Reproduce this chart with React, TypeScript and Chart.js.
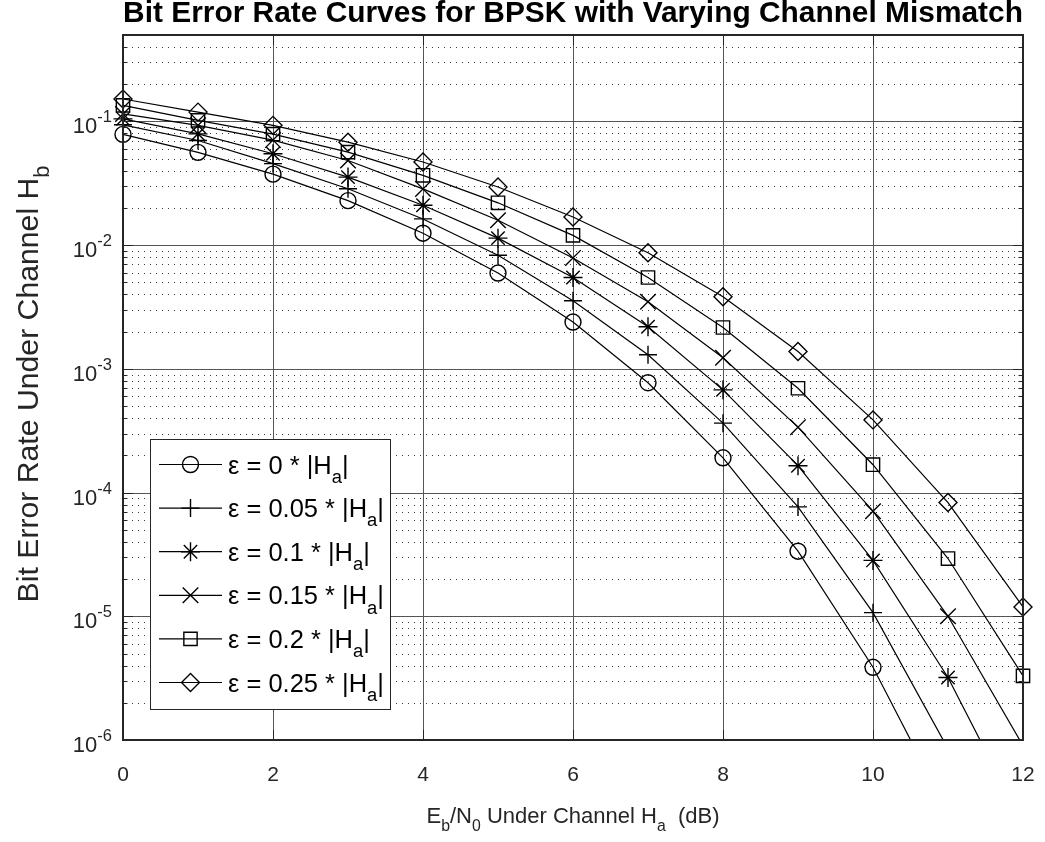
import React, { useEffect, useRef } from "react";
import { Chart, registerables } from "chart.js";
import { drawPoint } from "chart.js/helpers";

Chart.register(...registerables);

// ---------------- data ----------------
const ebn0 = [0, 1, 2, 3, 4, 5, 6, 7, 8, 9, 10, 11, 12];

const ber000 = [0.0786, 0.0563, 0.0375, 0.0229, 0.0125, 0.00595, 0.00239, 7.73e-4, 1.91e-4, 3.36e-5, 3.87e-6, 2.6e-7, 9e-9];
const ber005 = [0.094, 0.0702, 0.0456, 0.0286, 0.0163, 0.0083, 0.00355, 1.3e-3, 3.64e-4, 7.66e-5, 1.07e-5, 8.5e-7, 4e-8];
const ber010 = [0.105, 0.0794, 0.0548, 0.0355, 0.021, 0.0114, 0.00548, 0.00219, 6.77e-4, 1.65e-4, 2.83e-5, 3.2e-6, 2.1e-7];
const ber015 = [0.115, 0.093, 0.0707, 0.0484, 0.0285, 0.0159, 0.00789, 0.00349, 0.00123, 3.38e-4, 7.07e-5, 1.0e-5, 9e-7];
const ber020 = [0.135, 0.102, 0.079, 0.0565, 0.0367, 0.022, 0.012, 0.00548, 0.00216, 6.97e-4, 1.68e-4, 2.93e-5, 3.3e-6];
const ber025 = [0.152, 0.119, 0.093, 0.068, 0.047, 0.0295, 0.0169, 0.0087, 0.00383, 0.00138, 3.87e-4, 8.3e-5, 1.19e-5];

const epsLabels = ["0", "0.05", "0.1", "0.15", "0.2", "0.25"];
const seriesData = [ber000, ber005, ber010, ber015, ber020, ber025];

const xTickValues = [0, 2, 4, 6, 8, 10, 12];
const yDecadeExps = [-6, -5, -4, -3, -2, -1];

const titleText = "Bit Error Rate Curves for BPSK with Varying Channel Mismatch";
const xMin = 0;
const xMax = 12;
const yMin = 1e-6;
const yMax = 0.5;

// ---------------- styles ----------------
const markerStyles = ["circle", "cross", "star", "crossRot", "rect", "rectRot"];
const markerRadii = [8, 9, 9.5, 11, 9.4, 9];
const FONT = "'Liberation Sans', Arial, Helvetica, sans-serif";
const AXIS_COLOR = "#262626";

type Part = { t: string; sub?: boolean; sup?: boolean };

function measureRich(ctx: CanvasRenderingContext2D, parts: Part[], size: number, weight = "normal", ratio = 0.72) {
  let total = 0;
  for (const p of parts) {
    const s = p.sub || p.sup ? size * ratio : size;
    ctx.font = `${weight} ${s}px ${FONT}`;
    total += ctx.measureText(p.t).width;
  }
  return total;
}

function drawRich(
  ctx: CanvasRenderingContext2D,
  parts: Part[],
  x: number,
  y: number,
  align: "left" | "center" | "right",
  size: number,
  weight = "normal",
  ratio = 0.72
) {
  const segs = parts.map((p) => {
    const s = p.sub || p.sup ? size * ratio : size;
    ctx.font = `${weight} ${s}px ${FONT}`;
    return { ...p, s, w: ctx.measureText(p.t).width };
  });
  const total = segs.reduce((a, b) => a + b.w, 0);
  let cx = align === "center" ? x - total / 2 : align === "right" ? x - total : x;
  ctx.textAlign = "left";
  ctx.textBaseline = "alphabetic";
  for (const s of segs) {
    ctx.font = `${weight} ${s.s}px ${FONT}`;
    const dy = s.sub ? size * 0.36 : s.sup ? -size * 0.5 : 0;
    ctx.fillText(s.t, cx, y + dy);
    cx += s.w;
  }
}

const matlabPlugin = {
  id: "matlabAxes",
  beforeDatasetsDraw(chart: any) {
    const { ctx, chartArea } = chart;
    const xs = chart.scales.x;
    const ys = chart.scales.y;
    const { left, right, top, bottom } = chartArea;
    ctx.save();
    // minor dotted grid
    ctx.strokeStyle = "#3a3a3a";
    ctx.lineWidth = 1;
    ctx.setLineDash([1, 5]);
    for (const e of yDecadeExps.concat([0])) {
      for (let m = 2; m <= 9; m++) {
        const v = m * Math.pow(10, e - 1);
        if (v <= yMin || v >= yMax) continue;
        const py = Math.round(ys.getPixelForValue(v)) + 0.5;
        ctx.beginPath();
        ctx.moveTo(left + 3, py);
        ctx.lineTo(right, py);
        ctx.stroke();
      }
    }
    ctx.setLineDash([]);
    // major grid
    ctx.strokeStyle = "#555555";
    for (const e of yDecadeExps) {
      const py = Math.round(ys.getPixelForValue(Math.pow(10, e))) + 0.5;
      ctx.beginPath();
      ctx.moveTo(left, py);
      ctx.lineTo(right, py);
      ctx.stroke();
    }
    for (const v of xTickValues) {
      const px = Math.round(xs.getPixelForValue(v)) + 0.5;
      ctx.beginPath();
      ctx.moveTo(px, top);
      ctx.lineTo(px, bottom);
      ctx.stroke();
    }
    ctx.restore();
  },
  afterDatasetsDraw(chart: any) {
    const { ctx, chartArea } = chart;
    const xs = chart.scales.x;
    const ys = chart.scales.y;
    const { left, right, top, bottom } = chartArea;
    ctx.save();
    // ticks
    ctx.strokeStyle = AXIS_COLOR;
    ctx.lineWidth = 1;
    const majorLen = 10;
    const minorLen = 4.5;
    for (const e of yDecadeExps) {
      const py = Math.round(ys.getPixelForValue(Math.pow(10, e))) + 0.5;
      ctx.beginPath();
      ctx.moveTo(left, py);
      ctx.lineTo(left + majorLen, py);
      ctx.moveTo(right, py);
      ctx.lineTo(right - majorLen, py);
      ctx.stroke();
    }
    for (const e of yDecadeExps.concat([0])) {
      for (let m = 2; m <= 9; m++) {
        const v = m * Math.pow(10, e - 1);
        if (v <= yMin || v >= yMax) continue;
        const py = Math.round(ys.getPixelForValue(v)) + 0.5;
        ctx.beginPath();
        ctx.moveTo(left, py);
        ctx.lineTo(left + minorLen, py);
        ctx.moveTo(right, py);
        ctx.lineTo(right - minorLen, py);
        ctx.stroke();
      }
    }
    for (const v of xTickValues) {
      const px = Math.round(xs.getPixelForValue(v)) + 0.5;
      ctx.beginPath();
      ctx.moveTo(px, bottom);
      ctx.lineTo(px, bottom - majorLen);
      ctx.moveTo(px, top);
      ctx.lineTo(px, top + majorLen);
      ctx.stroke();
    }
    // box
    ctx.lineWidth = 2;
    ctx.strokeRect(left, top, right - left, bottom - top);

    // tick labels
    ctx.fillStyle = AXIS_COLOR;
    for (const v of xTickValues) {
      drawRich(ctx, [{ t: String(v) }], xs.getPixelForValue(v), bottom + 41, "center", 21);
    }
    for (const e of yDecadeExps) {
      const py = ys.getPixelForValue(Math.pow(10, e));
      drawRich(ctx, [{ t: "10" }, { t: String(e), sup: true }], left - 11, py + 12, "right", 22, "normal", 0.75);
    }

    // axis titles
    drawRich(
      ctx,
      [
        { t: "E" },
        { t: "b", sub: true },
        { t: "/N" },
        { t: "0", sub: true },
        { t: " Under Channel H" },
        { t: "a", sub: true },
        { t: "  (dB)" },
      ],
      (left + right) / 2,
      bottom + 83,
      "center",
      22
    );
    const yTitle: Part[] = [{ t: "Bit Error Rate Under Channel H" }, { t: "b", sub: true }];
    const yw = measureRich(ctx, yTitle, 22);
    const ysize = Math.max(22, Math.min(32, (22 * 437) / yw));
    ctx.save();
    ctx.translate(16 + ysize * 0.72, 384);
    ctx.rotate(-Math.PI / 2);
    drawRich(ctx, yTitle, 0, 0, "center", ysize);
    ctx.restore();

    // title (bold), sized to span the axes width
    ctx.font = `bold 20px ${FONT}`;
    const tw = ctx.measureText(titleText).width;
    const tsize = (20 * (right - left)) / tw;
    ctx.fillStyle = "#000";
    drawRich(ctx, [{ t: titleText }], (left + right) / 2, top - 13, "center", tsize, "bold");

    // legend
    const lx = 150.5;
    const ly = 439.5;
    const lw = 240;
    const lh = 270;
    ctx.fillStyle = "#ffffff";
    ctx.fillRect(lx, ly, lw, lh);
    ctx.strokeStyle = AXIS_COLOR;
    ctx.lineWidth = 1;
    ctx.strokeRect(lx, ly, lw, lh);
    const legParts = (i: number): Part[] => [{ t: `ε = ${epsLabels[i]} * |H` }, { t: "a", sub: true }, { t: "|" }];
    const lwRef = measureRich(ctx, legParts(5), 20);
    const lsize = Math.max(18, Math.min(27, (20 * 156) / lwRef));
    for (let i = 0; i < epsLabels.length; i++) {
      const yc = 464.5 + i * 43.6;
      ctx.strokeStyle = "#000";
      ctx.lineWidth = 1.2;
      ctx.beginPath();
      ctx.moveTo(159, yc);
      ctx.lineTo(222, yc);
      ctx.stroke();
      ctx.fillStyle = "rgba(0,0,0,0)";
      ctx.lineWidth = 1.4;
      drawPoint(ctx, { pointStyle: markerStyles[i], rotation: 0, radius: markerRadii[i], borderWidth: 1.4 } as any, 190.5, yc);
      ctx.fillStyle = "#000";
      drawRich(ctx, legParts(i), 228, yc + lsize * 0.36, "left", lsize);
    }
    ctx.restore();
  },
};

export default function App() {
  const canvasRef = useRef<HTMLCanvasElement | null>(null);

  useEffect(() => {
    const canvas = canvasRef.current;
    if (!canvas) return;
    const datasets = seriesData.map((vals, i) => ({
      label: `ε = ${epsLabels[i]} * |Ha|`,
      data: ebn0.map((x, j) => ({ x, y: vals[j] })),
      borderColor: "#000000",
      borderWidth: 1.2,
      pointStyle: markerStyles[i],
      pointRadius: (c: any) => (c.raw && c.raw.y < yMin ? 0 : markerRadii[i]),
      pointBorderColor: "#000000",
      pointBackgroundColor: "rgba(0,0,0,0)",
      pointBorderWidth: 1.4,
      tension: 0,
      fill: false,
      clip: { left: 14, right: 14, top: 14, bottom: 0 },
    }));
    const chart = new Chart(canvas, {
      type: "line",
      data: { datasets },
      options: {
        animation: false,
        responsive: false,
        devicePixelRatio: 1,
        events: [],
        layout: { padding: { left: 123, right: 22, top: 35, bottom: 102 } },
        scales: {
          x: { type: "linear", min: xMin, max: xMax, display: false },
          y: { type: "logarithmic", min: yMin, max: yMax, display: false },
        },
        plugins: {
          legend: { display: false },
          title: { display: false },
          tooltip: { enabled: false },
        },
      },
      plugins: [matlabPlugin],
    } as any);
    return () => chart.destroy();
  }, []);

  return (
    <div style={{ position: "fixed", left: 0, top: 0, width: 1045, height: 842, background: "#fff" }}>
      <canvas ref={canvasRef} width={1045} height={842} style={{ width: 1045, height: 842 }} />
    </div>
  );
}
